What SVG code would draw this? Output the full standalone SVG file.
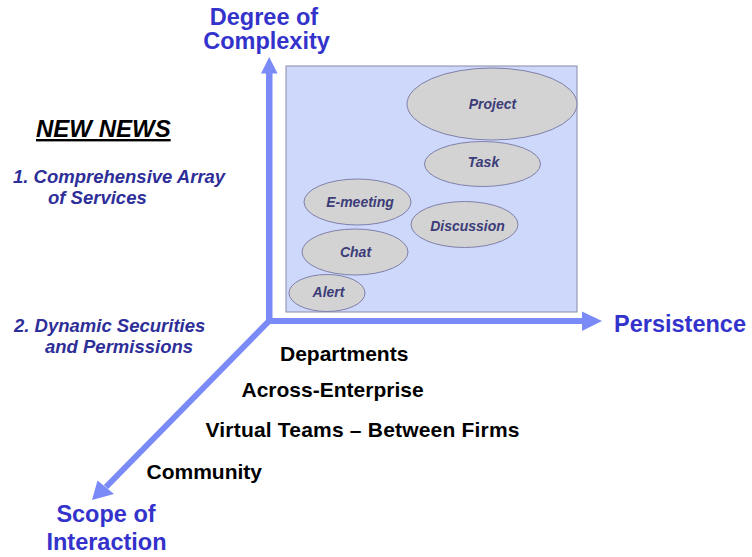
<svg xmlns="http://www.w3.org/2000/svg" width="752" height="557" viewBox="0 0 752 557">
<style>
  .axis { fill: #7a8af6; }
  .axisline { stroke: #7a8af6; stroke-width: 6; fill: none; }
  .axlabel { font-family: "Liberation Sans", Arial, sans-serif; font-weight: bold; font-size: 23.5px; fill: #3333cc; }
  .scope { font-family: "Liberation Sans", Arial, sans-serif; font-weight: bold; font-size: 21px; fill: #000; }
  .item { font-family: "Liberation Sans", Arial, sans-serif; font-weight: bold; font-style: italic; font-size: 18.5px; fill: #2e2e99; }
  .bubble ellipse { fill: #d3d3d3; stroke: #8080aa; stroke-width: 1; }
  .bubble text { font-family: "Liberation Sans", Arial, sans-serif; font-weight: bold; font-style: italic; font-size: 14px; fill: #3c3c78; text-anchor: middle; }
</style>
<rect width="752" height="557" fill="#ffffff"/>

<g id="panel">
  <rect x="286" y="66" width="291" height="246" fill="#cdd8fb" stroke="#8a8aa8" stroke-width="1"/>
</g>

<g id="project" class="bubble"><ellipse cx="492" cy="104" rx="85" ry="36"/><text x="492.5" y="108.5">Project</text></g>
<g id="task" class="bubble"><ellipse cx="482.5" cy="164" rx="58" ry="22.5"/><text x="483.5" y="167">Task</text></g>
<g id="emeeting" class="bubble"><ellipse cx="357.5" cy="202" rx="53.5" ry="23"/><text x="360" y="207">E-meeting</text></g>
<g id="discussion" class="bubble"><ellipse cx="464.5" cy="224.5" rx="53.5" ry="23"/><text x="467.5" y="231">Discussion</text></g>
<g id="chat" class="bubble"><ellipse cx="355" cy="252" rx="53" ry="23"/><text x="355.5" y="257">Chat</text></g>
<g id="alert" class="bubble"><ellipse cx="327" cy="293" rx="38" ry="18.5"/><text x="328.5" y="297">Alert</text></g>

<g id="connectors">
  <rect class="axis" x="266" y="72" width="6.5" height="252"/>
  <polygon class="axis" points="261,73.5 269.2,57 277.5,73.5"/>
  <rect class="axis" x="266" y="318" width="317" height="6"/>
  <polygon class="axis" points="582,311.5 602,321 582,331"/>
  <line class="axisline" x1="269" y1="321" x2="106" y2="487"/>
  <polygon class="axis" points="92,500 97.5,480.5 114,494"/>
</g>

<g id="axis-labels">
  <text class="axlabel" x="264" y="24.5" text-anchor="middle">Degree of</text>
  <text class="axlabel" x="266.5" y="49" text-anchor="middle">Complexity</text>
  <text class="axlabel" x="614" y="332">Persistence</text>
  <text class="axlabel" x="106" y="522" text-anchor="middle">Scope of</text>
  <text class="axlabel" x="106.5" y="550" text-anchor="middle">Interaction</text>
</g>

<g id="scope-levels">
  <text class="scope" x="280" y="361">Departments</text>
  <text class="scope" x="241.5" y="396.5">Across-Enterprise</text>
  <text class="scope" x="205.5" y="436.5" textLength="314">Virtual Teams – Between Firms</text>
  <text class="scope" x="146.5" y="479">Community</text>
</g>

<g id="new-news">
  <text x="36" y="137" font-family="'Liberation Sans', Arial, sans-serif" font-weight="bold" font-style="italic" font-size="24px" fill="#000" text-decoration="underline">NEW NEWS</text>
  <text class="item" x="13" y="182.5">1. Comprehensive Array</text>
  <text class="item" x="48" y="203.5">of Services</text>
  <text class="item" x="14" y="331.5">2. Dynamic Securities</text>
  <text class="item" x="45" y="353">and Permissions</text>
</g>
</svg>
